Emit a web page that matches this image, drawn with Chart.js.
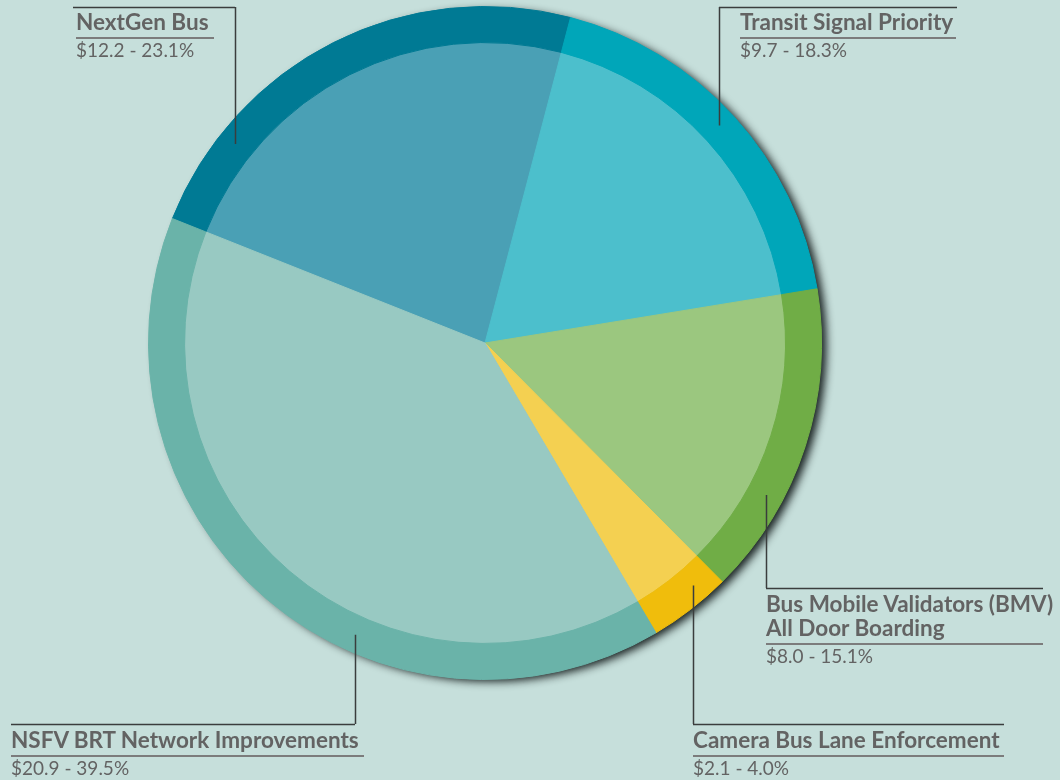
<!DOCTYPE html>
<html>
<head>
<meta charset="utf-8">
<script src="https://cdn.jsdelivr.net/npm/chart.js@4.4.1/dist/chart.umd.min.js"></script>
<style>
  body { margin: 0; background: #c6dfdb; }
  #wrap { position: relative; width: 1060px; height: 780px; overflow: hidden; background: #c6dfdb; }
  #chart { position: absolute; left: 0; top: 0; }
  .lbl { position: absolute; font-family: Lato, "Open Sans", sans-serif; color: #636363; }
  .lbl .t { font-weight: bold; font-size: 22.5px; line-height: 24px; padding-bottom: 3px; border-bottom: 2px solid #7c7c7c; white-space: nowrap; }
  .lbl .v { font-size: 19px; line-height: 22px; margin-top: 0px; white-space: nowrap; }
</style>
</head>
<body>
<div id="wrap">
  <canvas id="chart" width="1060" height="780"></canvas>
</div>
<script>
// data
const categories = ['NextGen Bus', 'Transit Signal Priority', 'Bus Mobile Validators (BMV)\nAll Door Boarding', 'Camera Bus Lane Enforcement', 'NSFV BRT Network Improvements'];
const amounts = [12.2, 9.7, 8.0, 2.1, 20.9];
const percents = ['23.1%', '18.3%', '15.1%', '4.0%', '39.5%'];
const ringColors = ['#007a94', '#00a6b9', '#70ad46', '#f0bd0c', '#6ab3a9'];
const fillColors = ['#4aa0b5', '#4cbfcc', '#9bc77f', '#f4d051', '#98c9c2'];

// label placement: text box left/top, width, leader line x, leader horizontal y, leader horizontal span
const labelLayout = [
  { left: 76, top: 10, width: 138, lineX: 235, lineY: 7, x1: 73, x2: 235 },
  { left: 740, top: 10, width: 216, lineX: 719, lineY: 7, x1: 719, x2: 957 },
  { left: 766, top: 592, width: 277, lineX: 766, lineY: 588, x1: 766, x2: 1043 },
  { left: 693, top: 728, width: 311, lineX: 693, lineY: 724, x1: 693, x2: 1004 },
  { left: 11, top: 728, width: 353, lineX: 355, lineY: 724, x1: 11, x2: 355 }
];

const wrap = document.getElementById('wrap');
categories.forEach((name, i) => {
  const lay = labelLayout[i];
  const div = document.createElement('div');
  div.className = 'lbl';
  div.style.left = lay.left + 'px';
  div.style.top = lay.top + 'px';
  div.style.width = lay.width + 'px';
  const t = document.createElement('div');
  t.className = 't';
  t.innerHTML = name.split('\n').join('<br>');
  const v = document.createElement('div');
  v.className = 'v';
  v.textContent = '$' + amounts[i].toFixed(1) + ' - ' + percents[i];
  div.appendChild(t);
  div.appendChild(v);
  wrap.appendChild(div);
});

// soft shadow behind the whole pie
const shadowPlugin = {
  id: 'pieShadow',
  beforeDatasetsDraw(chart) {
    const arc = chart.getDatasetMeta(0).data[0];
    if (!arc) {return;}
    const ctx = chart.ctx;
    ctx.save();
    ctx.shadowColor = 'rgba(15, 22, 22, 0.95)';
    ctx.shadowBlur = 9;
    ctx.shadowOffsetX = 6;
    ctx.shadowOffsetY = 3;
    ctx.fillStyle = '#6ab3a9';
    ctx.beginPath();
    ctx.arc(arc.x, arc.y, arc.outerRadius - 1, 0, Math.PI * 2);
    ctx.fill();
    ctx.restore();
  }
};

// leader lines from labels into the outer ring
const leaderPlugin = {
  id: 'leaders',
  afterDatasetsDraw(chart) {
    const arc = chart.getDatasetMeta(0).data[0];
    if (!arc) {return;}
    const ctx = chart.ctx;
    const rMid = arc.outerRadius - 17;
    ctx.save();
    ctx.strokeStyle = '#3a3d3d';
    ctx.lineWidth = 1.5;
    labelLayout.forEach((lay) => {
      const dx = lay.lineX - arc.x;
      const dy = Math.sqrt(Math.max(rMid * rMid - dx * dx, 0));
      const yEnd = lay.lineY < arc.y ? arc.y - dy : arc.y + dy;
      ctx.beginPath();
      ctx.moveTo(lay.x1, lay.lineY + 0.5);
      ctx.lineTo(lay.x2, lay.lineY + 0.5);
      ctx.moveTo(lay.lineX + 0.5, lay.lineY);
      ctx.lineTo(lay.lineX + 0.5, yEnd);
      ctx.stroke();
    });
    ctx.restore();
  }
};

new Chart(document.getElementById('chart'), {
  type: 'doughnut',
  data: {
    labels: categories,
    datasets: [{
      data: amounts,
      backgroundColor: ringColors,
      borderColor: ringColors,
      borderWidth: 1,
      weight: 36
    }, {
      data: amounts,
      backgroundColor: fillColors,
      borderColor: fillColors,
      borderWidth: 1,
      weight: 300
    }]
  },
  options: {
    responsive: false,
    animation: false,
    cutout: 0,
    rotation: -68.3,
    layout: { padding: { left: 148, right: 238, top: 6, bottom: 100 } },
    plugins: {
      legend: { display: false },
      tooltip: { enabled: false }
    }
  },
  plugins: [shadowPlugin, leaderPlugin]
});
</script>
</body>
</html>
